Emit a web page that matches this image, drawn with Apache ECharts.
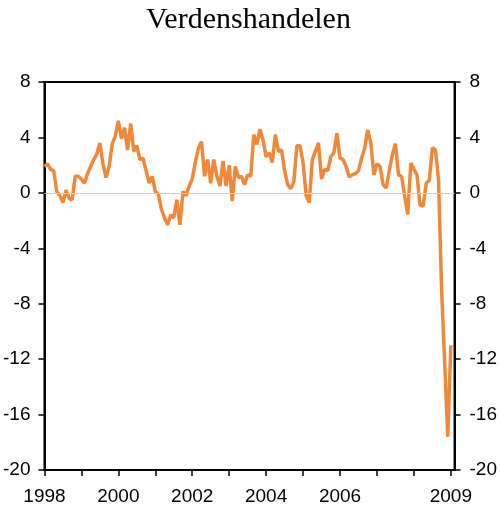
<!DOCTYPE html>
<html>
<head>
<meta charset="utf-8">
<title>Verdenshandelen</title>
<script src="https://cdn.jsdelivr.net/npm/echarts@6/dist/echarts.min.js"></script>
<style>
  html, body { margin: 0; padding: 0; background: #fff; }
  #chart { width: 500px; height: 514px; }
</style>
</head>
<body>
<div id="chart"></div>
<script>
// monthly values, one array per year (Jan..Dec)
const v1998 = [1.9, 2.1, 1.7, 1.6, 0.1, -0.2, -0.7, 0.2, -0.4, -0.5, 1.2, 1.2];
const v1999 = [1.0, 0.7, 1.4, 1.9, 2.4, 2.8, 3.6, 2.1, 1.1, 1.9, 3.5, 4.1];
const v2000 = [5.2, 3.9, 4.7, 3.1, 5.0, 3.0, 3.4, 2.4, 2.5, 1.6, 0.7, 1.2];
const v2001 = [0.1, -0.1, -1.2, -1.8, -2.3, -1.6, -1.8, -0.5, -2.3, 0.1, -0.2, 0.5];
const v2002 = [1.0, 2.2, 3.2, 3.7, 1.2, 2.4, 0.7, 2.4, 1.2, 0.5, 2.3, 0.5];
const v2003 = [2.0, -0.6, 1.9, 1.1, 1.2, 0.6, 1.3, 1.2, 4.2, 3.5, 4.6, 3.8];
const v2004 = [2.6, 2.9, 2.2, 4.2, 3.0, 3.1, 1.6, 0.6, 0.3, 0.8, 3.4, 3.4];
const v2005 = [2.2, -0.2, -0.7, 2.4, 3.0, 3.6, 1.0, 1.7, 1.6, 2.6, 2.9, 4.3];
const v2006 = [2.5, 2.4, 1.9, 1.15, 1.3, 1.4, 1.6, 2.5, 3.2, 4.55, 3.6, 1.3];
const v2007 = [2.1, 1.9, 0.6, 0.35, 1.6, 2.75, 3.55, 1.3, 1.2, -0.25, -1.55, 2.15];
const v2008 = [1.7, 1.3, -0.9, -0.95, 0.7, 0.9, 3.25, 3.1, 0.95, -7.0, -12.3, -17.6];
const v2009 = [-11.0];

const startYear = 1998;
const labelYears = [1998, 2000, 2002, 2004, 2006, 2009];
const yTicks = [-20, -16, -12, -8, -4, 0, 4, 8];

const values = [].concat(v1998, v1999, v2000, v2001, v2002, v2003,
  v2004, v2005, v2006, v2007, v2008, v2009);
const seriesData = values.map((v, i) => [i, v]);

const chart = echarts.init(document.getElementById('chart'));

const yAxisBase = {
  type: 'value',
  min: yTicks[0],
  max: yTicks[yTicks.length - 1],
  interval: 4,
  axisLine: { show: true, lineStyle: { color: '#000', width: 2 } },
  axisTick: { show: true, length: 6, lineStyle: { color: '#000', width: 1.5 } },
  axisLabel: { color: '#000', fontSize: 19, fontFamily: 'Liberation Sans, Arial, sans-serif', margin: 14 },
  splitLine: { show: false },
};

const option = {
  animation: false,
  backgroundColor: '#fff',
  title: {
    text: 'Verdenshandelen',
    left: 141,
    top: 0,
    textStyle: { fontFamily: 'Liberation Serif, Times New Roman, serif', fontSize: 30, fontWeight: 'normal', color: '#000' },
  },
  grid: {
    left: 44, right: 45, top: 82, bottom: 44,
    show: true, borderColor: '#000', borderWidth: 2,
  },
  xAxis: {
    type: 'value',
    min: 0,
    max: 133.2,
    interval: 12,
    axisLine: { show: true, onZero: false, lineStyle: { color: '#000', width: 2 } },
    axisTick: { show: true, length: 6, lineStyle: { color: '#000', width: 1.5 } },
    axisLabel: {
      color: '#000', fontSize: 19, fontFamily: 'Liberation Sans, Arial, sans-serif', margin: 17,
      showMaxLabel: false,
      formatter: function (v) {
        const y = startYear + Math.round(v / 12);
        return (v % 12 === 0 && labelYears.indexOf(y) >= 0) ? String(y) : '';
      },
    },
    splitLine: { show: false },
  },
  yAxis: [
    Object.assign({}, yAxisBase, { position: 'left' }),
    Object.assign({}, yAxisBase, { position: 'right', axisLabel: Object.assign({}, yAxisBase.axisLabel, { margin: 15 }) }),
  ],
  series: [
    {
      type: 'line',
      data: seriesData,
      showSymbol: false,
      lineStyle: { color: '#F0883A', width: 3.5 },
      itemStyle: { color: '#F0883A' },
      markLine: {
        silent: true,
        symbol: 'none',
        label: { show: false },
        lineStyle: { color: '#cfcfcf', width: 1, type: 'solid' },
        data: [{ yAxis: 0 }],
      },
    },
  ],
};

chart.setOption(option);
</script>
</body>
</html>
